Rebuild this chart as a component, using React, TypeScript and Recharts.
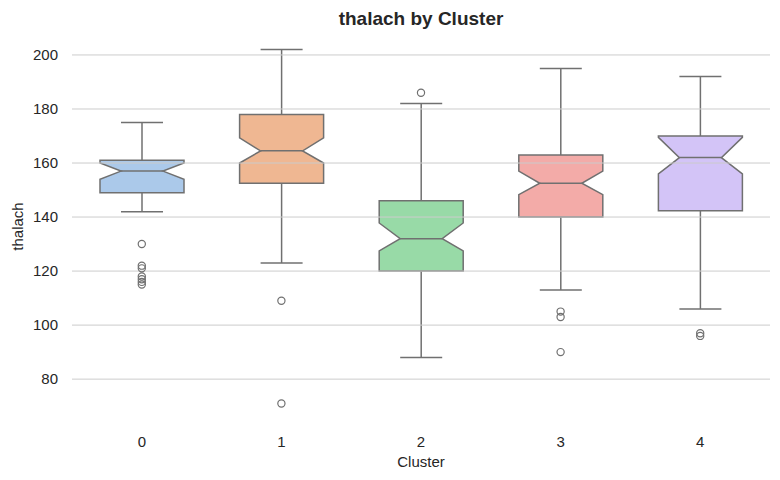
import React from 'react';
import { ComposedChart, Bar, Scatter, XAxis, YAxis, ReferenceLine } from 'recharts';

const clusters = [0, 1, 2, 3, 4];
const whiskerLow = [142, 123, 88, 113, 106];
const q1 = [149, 152.5, 120, 140, 142.3];
const median = [157, 164.5, 132, 152.5, 162];
const q3 = [161, 178, 146, 163, 170];
const whiskerHigh = [175, 202, 182, 195, 192];
const notchLow = [154, 160, 127.5, 148.3, 156];
const notchHigh = [160, 169.3, 137.8, 157, 169.5];

const outliers0 = [130, 122, 121, 118, 117, 116, 115];
const outliers1 = [109, 71];
const outliers2 = [186];
const outliers3 = [105, 103, 90];
const outliers4 = [97, 96];

const yTicks = [80, 100, 120, 140, 160, 180, 200];
const boxColors = ['#abc9ea', '#efb792', '#98daa7', '#f3aba8', '#d3c4f7'];
const lineColor = '#707070';
const textColor = '#262626';

const boxData = clusters.map((c, i) => ({
  cluster: c,
  range: [whiskerLow[i], whiskerHigh[i]],
  lo: whiskerLow[i],
  q1: q1[i],
  med: median[i],
  q3: q3[i],
  hi: whiskerHigh[i],
  nlo: notchLow[i],
  nhi: notchHigh[i],
  color: boxColors[i],
}));

const outlierData = [outliers0, outliers1, outliers2, outliers3, outliers4].flatMap((vals, i) =>
  vals.map((v) => ({ cluster: clusters[i], value: v }))
);

// notched box drawn inside the bar's whisker range, values mapped linearly on the bar's pixels
const NotchedBox = (props: any) => {
  const { x, y, width, height, payload } = props;
  const top = Math.min(y, y + height);
  const bottom = Math.max(y, y + height);
  const { lo, hi } = payload;
  const py = (v: number) => top + ((hi - v) / (hi - lo)) * (bottom - top);
  const cx = x + width / 2;
  const L = x;
  const R = x + width;
  const waist = width / 4;
  const cap = width / 4;
  const pts = [
    [L, py(payload.q1)],
    [L, py(payload.nlo)],
    [cx - waist, py(payload.med)],
    [L, py(payload.nhi)],
    [L, py(payload.q3)],
    [R, py(payload.q3)],
    [R, py(payload.nhi)],
    [cx + waist, py(payload.med)],
    [R, py(payload.nlo)],
    [R, py(payload.q1)],
  ]
    .map((p) => p.join(','))
    .join(' ');
  return (
    <g>
      <line x1={cx} x2={cx} y1={py(hi)} y2={py(payload.q3)} stroke={lineColor} strokeWidth={1.5} />
      <line x1={cx} x2={cx} y1={py(payload.q1)} y2={py(lo)} stroke={lineColor} strokeWidth={1.5} />
      <line x1={cx - cap} x2={cx + cap} y1={py(hi)} y2={py(hi)} stroke={lineColor} strokeWidth={1.5} />
      <line x1={cx - cap} x2={cx + cap} y1={py(lo)} y2={py(lo)} stroke={lineColor} strokeWidth={1.5} />
      <polygon points={pts} fill={payload.color} stroke={lineColor} strokeWidth={1.5} strokeLinejoin="miter" />
      <line x1={cx - waist} x2={cx + waist} y1={py(payload.med)} y2={py(payload.med)} stroke={lineColor} strokeWidth={1.5} />
    </g>
  );
};

const OutlierDot = (props: any) => (
  <circle cx={props.cx} cy={props.cy} r={3.6} fill="none" stroke={lineColor} strokeWidth={1.2} />
);

export default function App() {
  return (
    <div
      style={{
        position: 'absolute',
        left: 0,
        top: 0,
        width: 780,
        height: 480,
        background: '#ffffff',
        fontFamily: '"Liberation Sans", Arial, sans-serif',
      }}
    >
      <div
        style={{
          position: 'absolute',
          left: 0,
          width: 842,
          top: 8.5,
          textAlign: 'center',
          fontSize: 19,
          lineHeight: 1,
          fontWeight: 'bold',
          color: textColor,
        }}
      >
        thalach by Cluster
      </div>
      <ComposedChart
        width={780}
        height={480}
        data={boxData}
        margin={{ top: 32, right: 10, left: 0, bottom: 0 }}
      >
        <XAxis
          dataKey="cluster"
          type="category"
          allowDuplicatedCategory={false}
          height={59}
          axisLine={false}
          stroke="none"
          tickLine={false}
          tickSize={0}
          tickMargin={15}
          tick={{ fontSize: 15, fill: textColor }}
          label={{
            content: (p: any) => {
              const vb = p.viewBox;
              return (
                <text x={vb.x + vb.width / 2} y={466.5} textAnchor="middle" fontSize={15} fill={textColor}>
                  Cluster
                </text>
              );
            },
          }}
        />
        <YAxis
          type="number"
          domain={[64.5, 208.5]}
          ticks={yTicks}
          allowDataOverflow
          width={72}
          axisLine={false}
          stroke="none"
          tickLine={false}
          tickSize={0}
          tickMargin={14}
          tick={{ fontSize: 15, fill: textColor }}
          label={{
            content: (p: any) => {
              const vb = p.viewBox;
              const cy = vb.y + vb.height / 2;
              return (
                <text
                  x={22.5}
                  y={cy}
                  transform={`rotate(-90, 22.5, ${cy})`}
                  textAnchor="middle"
                  fontSize={15}
                  fill={textColor}
                >
                  thalach
                </text>
              );
            },
          }}
        />
        {yTicks.map((t) => (
          <ReferenceLine key={t} y={t} stroke="#cccccc" strokeWidth={1} />
        ))}
        <Bar dataKey="range" barSize={84} shape={<NotchedBox />} isAnimationActive={false} />
        <Scatter data={outlierData} dataKey="value" shape={<OutlierDot />} isAnimationActive={false} />
      </ComposedChart>
    </div>
  );
}
